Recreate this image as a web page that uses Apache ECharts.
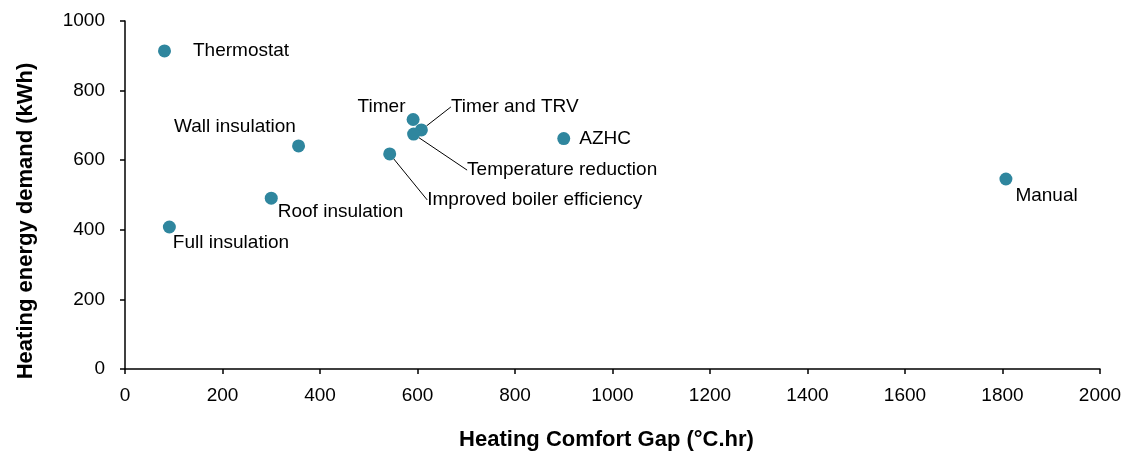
<!DOCTYPE html>
<html>
<head>
<meta charset="utf-8">
<script src="https://cdn.jsdelivr.net/npm/echarts@6/dist/echarts.min.js"></script>
<style>
html,body{margin:0;padding:0;background:#fff;}
#chart{width:1125px;height:457px;}
</style>
</head>
<body>
<div id="chart"></div>
<script>
// ---- data ----
var names = ['Thermostat','Full insulation','Roof insulation','Wall insulation','Timer','Timer and TRV','Temperature reduction','Improved boiler efficiency','AZHC','Manual'];
var comfortGap = [81, 91, 300, 356, 591, 608, 592, 543, 900, 1807];
var energyDemand = [914, 408, 491, 641, 717, 687, 675, 618, 662, 546];
var xTicks = [0,200,400,600,800,1000,1200,1400,1600,1800,2000];
var yTicks = [0,200,400,600,800,1000];

// ---- label placement (style only) ----
var labelShift = [
  {dx: 17, dy: 0},
  {dx: -8, dy: 16},
  {dx: -5, dy: 14},
  {dx: -136, dy: -19},
  {dx: -67, dy: -13},
  {dx: 18, dy: -23},
  {dx: 42, dy: 36},
  {dx: 26, dy: 46},
  {dx: 4, dy: 0},
  {dx: -2, dy: 17}
];
var withLeader = [false,false,false,false,false,true,true,true,false,false];

var FONT = "'Liberation Sans', Arial, sans-serif";
var pts = names.map(function(n,i){
  return {
    name: n,
    value: [comfortGap[i], energyDemand[i]],
    labelLine: {show: withLeader[i]}
  };
});
function plain(v){ return String(v); }

var chart = echarts.init(document.getElementById('chart'), null, {renderer:'canvas'});
chart.setOption({
  animation: false,
  backgroundColor: '#fff',
  grid: {left: 125, right: 25, top: 21, bottom: 88, containLabel: false},
  xAxis: {
    type: 'value', min: xTicks[0], max: xTicks[xTicks.length-1], interval: 200,
    name: 'Heating Comfort Gap (°C.hr)', nameLocation: 'middle', nameGap: 60,
    nameTextStyle: {fontFamily: FONT, fontWeight: 'bold', fontSize: 22, color: '#000', padding: [0, 12, 0, 0]},
    axisLine: {lineStyle: {color: '#000', width: 1.5}},
    axisTick: {show: true, length: 5, inside: false, lineStyle: {color: '#000', width: 1.5}},
    axisLabel: {fontFamily: FONT, fontSize: 19, color: '#000', margin: 17, formatter: plain},
    splitLine: {show: false}
  },
  yAxis: {
    type: 'value', min: yTicks[0], max: yTicks[yTicks.length-1], interval: 200,
    name: 'Heating energy demand (kWh)', nameLocation: 'middle', nameGap: 88, nameRotate: 90,
    nameTextStyle: {fontFamily: FONT, fontWeight: 'bold', fontSize: 22, color: '#000', padding: [0, 52, 0, 0]},
    axisLine: {show: true, lineStyle: {color: '#000', width: 1.5}},
    axisTick: {show: true, length: 5, inside: false, lineStyle: {color: '#000', width: 1.5}},
    axisLabel: {fontFamily: FONT, fontSize: 19, color: '#000', margin: 20, formatter: plain},
    splitLine: {show: false}
  },
  series: [{
    type: 'scatter',
    symbol: 'circle',
    symbolSize: 13,
    itemStyle: {color: '#2F869E', opacity: 1},
    data: pts,
    label: {
      show: true, position: 'right', distance: 5, opacity: 1,
      formatter: '{b}', fontFamily: FONT, fontSize: 19, color: '#000'
    },
    labelLine: {lineStyle: {color: '#000', width: 1, opacity: 1}},
    labelLayout: function(p){ return labelShift[p.dataIndex]; }
  }]
});
</script>
</body>
</html>
